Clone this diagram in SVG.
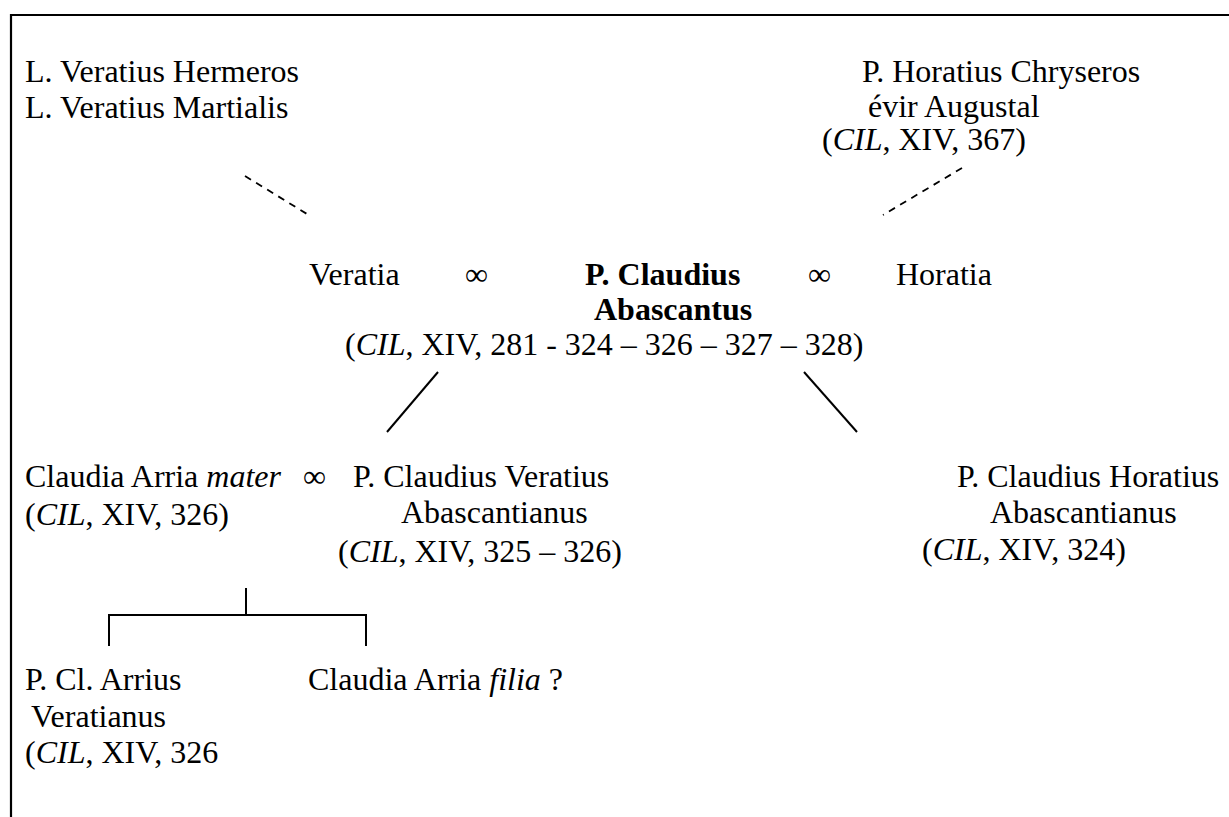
<svg xmlns="http://www.w3.org/2000/svg" width="1229" height="817" viewBox="0 0 1229 817">
<style>
text{font-family:"Liberation Serif","Times New Roman",serif;font-size:32px;fill:#000}
.b{font-weight:bold}
.i{font-style:italic}
.ln{stroke:#000;stroke-width:2;fill:none}
.dash{stroke:#000;stroke-width:1.8;fill:none;stroke-dasharray:7 6}
.frame{stroke:#000;stroke-width:2.2;fill:none}
</style>
<rect width="1229" height="817" fill="#fff"/>
<path class="frame" d="M11,817 V15 H1229"/>
<g id="veratii">
<text x="25" y="82">L. Veratius Hermeros</text>
<text x="25" y="118">L. Veratius Martialis</text>
</g>
<g id="horatius-chryseros">
<text x="862" y="82">P. Horatius Chryseros</text>
<text x="868" y="117">évir Augustal</text>
<text x="822" y="150">(<tspan class="i">CIL</tspan>, XIV, 367)</text>
</g>
<g id="veratia"><text x="309" y="285">Veratia</text></g>
<g id="m1"><text x="465" y="285">∞</text></g>
<g id="abascantus">
<text class="b" x="585" y="285">P. Claudius</text>
<text class="b" x="594" y="320">Abascantus</text>
<text x="345" y="355">(<tspan class="i">CIL</tspan>, XIV, 281 - 324 – 326 – 327 – 328)</text>
</g>
<g id="m2"><text x="808" y="285">∞</text></g>
<g id="horatia"><text x="896" y="285">Horatia</text></g>
<g id="claudia-arria-mater">
<text x="25" y="487">Claudia Arria <tspan class="i">mater</tspan></text>
<text x="25" y="525">(<tspan class="i">CIL</tspan>, XIV, 326)</text>
</g>
<g id="m3"><text x="303" y="487">∞</text></g>
<g id="veratius-abascantianus">
<text x="353" y="487">P. Claudius Veratius</text>
<text x="401" y="523">Abascantianus</text>
<text x="338" y="562">(<tspan class="i">CIL</tspan>, XIV, 325 – 326)</text>
</g>
<g id="horatius-abascantianus">
<text x="957" y="487">P. Claudius Horatius</text>
<text x="990" y="523">Abascantianus</text>
<text x="922" y="560">(<tspan class="i">CIL</tspan>, XIV, 324)</text>
</g>
<g id="arrius-veratianus">
<text x="25" y="690">P. Cl. Arrius</text>
<text x="31" y="727">Veratianus</text>
<text x="25" y="763">(<tspan class="i">CIL</tspan>, XIV, 326</text>
</g>
<g id="claudia-arria-filia">
<text x="308" y="690">Claudia Arria <tspan class="i">filia</tspan> ?</text>
</g>
<g id="connectors">
<line class="dash" x1="245" y1="176" x2="307" y2="214"/>
<line class="dash" x1="962" y1="168" x2="883" y2="215"/>
<line class="ln" x1="438" y1="372" x2="387" y2="432"/>
<line class="ln" x1="804" y1="372" x2="857" y2="432"/>
<path class="ln" d="M246,588 V615 M109,646 V615 H366 V646"/>
</g>
</svg>
